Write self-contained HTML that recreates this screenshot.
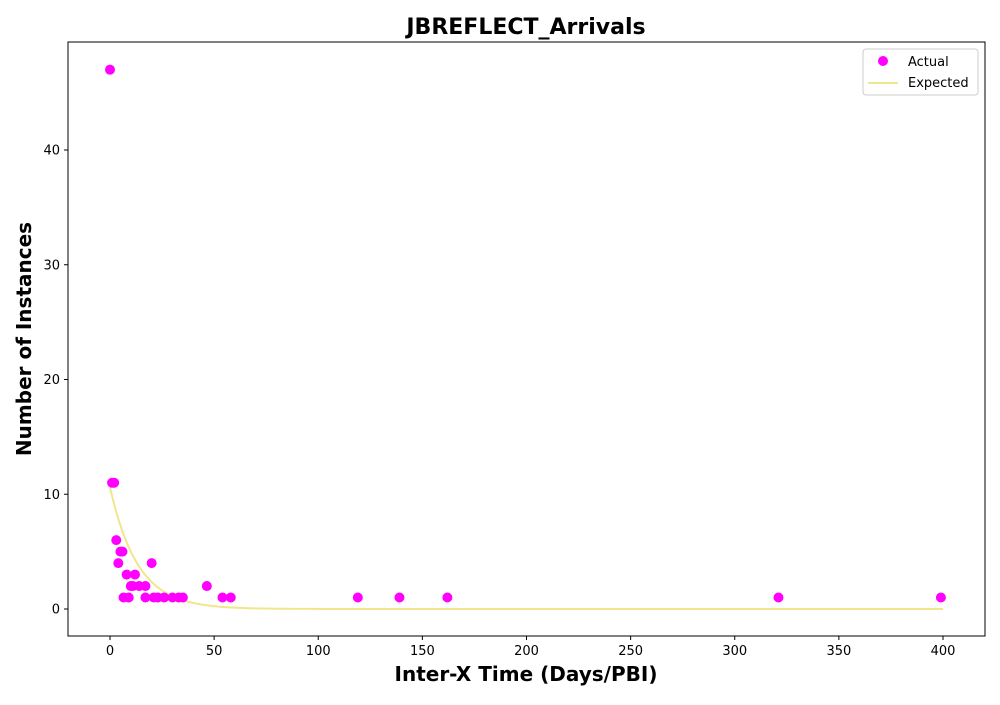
<!DOCTYPE html>
<html><head><meta charset="utf-8"><style>
body{margin:0;background:#fff;font-family:"Liberation Sans","DejaVu Sans",sans-serif}
svg text{font-family:"DejaVu Sans","Liberation Sans",sans-serif}
</style></head><body>
<svg id="chart" width="1000" height="700" xmlns="http://www.w3.org/2000/svg">
<rect width="1000" height="700" fill="#fff"/>
<text x="526" y="34" text-anchor="middle" font-size="22" font-weight="bold">JBREFLECT_Arrivals</text>
<g id="marks"></g>
<rect x="68" y="42" width="917" height="594" fill="none" stroke="#000" stroke-width="1"/>
<g id="xt"></g><g id="yt"></g>
<text x="526" y="681" text-anchor="middle" font-size="20" font-weight="bold">Inter-X Time (Days/PBI)</text>
<text transform="translate(31,339) rotate(-90)" text-anchor="middle" font-size="20" font-weight="bold">Number of Instances</text>
<g>
<rect x="863" y="49" width="115" height="46" rx="3" fill="#fff" stroke="#ccc"/>
<circle cx="883" cy="61" r="5" fill="#ff00ff"/>
<text x="908" y="66" font-size="13">Actual</text>
<line x1="868" y1="83" x2="898" y2="83" stroke="#f0e68c" stroke-width="2"/>
<text x="908" y="87" font-size="13">Expected</text>
</g>
</svg>
<script>
const actualX=[0,1,2,3,4,5,6,8,12,10,11,14,17,20,6.5,9,17,21,23,26,30,33,35,46.5,54,58,119,139,162,321,399];
const actualY=[47,11,11,6,4,5,5,3,3,2,2,2,2,4,1,1,1,1,1,1,1,1,1,2,1,1,1,1,1,1,1];
const expectedScale=[10.6];
const expectedMean=[13.3];
const xTicks=[0,50,100,150,200,250,300,350,400];
const yTicks=[0,10,20,30,40];
const sx=v=>110+v*2.0825, sy=v=>609-v*11.475;
const NS='http://www.w3.org/2000/svg';
const marks=document.getElementById('marks');
let d='';
for(let x=0;x<=400;x+=1){const y=expectedScale[0]*Math.exp(-x/expectedMean[0]);d+=(x?'L':'M')+sx(x).toFixed(2)+' '+sy(y).toFixed(2);}
const p=document.createElementNS(NS,'path');


p.setAttribute('d',d);p.setAttribute('fill','none');p.setAttribute('stroke','#f0e68c');p.setAttribute('stroke-width','2');
marks.appendChild(p);
actualX.forEach((x,i)=>{const c=document.createElementNS(NS,'circle');


c.setAttribute('cx',sx(x));c.setAttribute('cy',sy(actualY[i]));c.setAttribute('r',5);c.setAttribute('fill','#ff00ff');marks.appendChild(c);});
const xt=document.getElementById('xt'),yt=document.getElementById('yt');
xTicks.forEach(v=>{const l=document.createElementNS(NS,'line');


l.setAttribute('x1',sx(v));l.setAttribute('x2',sx(v));l.setAttribute('y1',636);l.setAttribute('y2',640);l.setAttribute('stroke','#000');xt.appendChild(l);
const t=document.createElementNS(NS,'text');


t.setAttribute('x',sx(v));t.setAttribute('y',655);t.setAttribute('text-anchor','middle');t.setAttribute('font-size','13');t.textContent=v;xt.appendChild(t);});
yTicks.forEach(v=>{const l=document.createElementNS(NS,'line');


l.setAttribute('x1',64);l.setAttribute('x2',68);l.setAttribute('y1',sy(v));l.setAttribute('y2',sy(v));l.setAttribute('stroke','#000');yt.appendChild(l);
const t=document.createElementNS(NS,'text');


t.setAttribute('x',60);t.setAttribute('y',sy(v)+4.5);t.setAttribute('text-anchor','end');t.setAttribute('font-size','13');t.textContent=v;yt.appendChild(t);});
</script>
</body></html>
